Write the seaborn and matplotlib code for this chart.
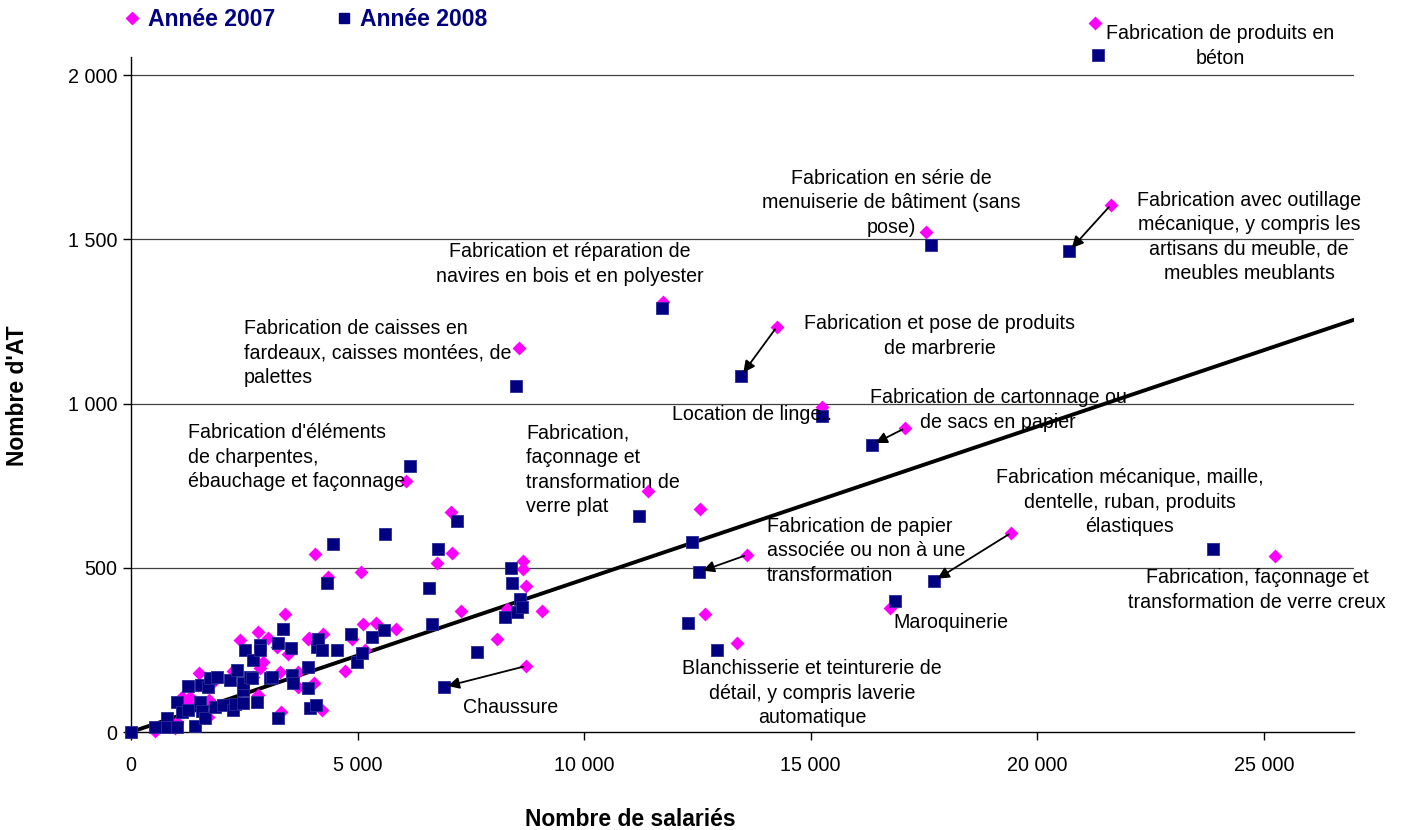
import seaborn as sns
import matplotlib.pyplot as plt
import matplotlib.ticker as mticker
from matplotlib.lines import Line2D
import pandas as pd
import numpy as np

sns.set_style('white')
plt.rcParams['font.family'] = ['Liberation Sans', 'DejaVu Sans']
plt.rcParams['text.color'] = 'black'
plt.rcParams['xtick.color'] = 'black'
plt.rcParams['ytick.color'] = 'black'

# secteurs annotés : valeurs 2007 et 2008
secteurs = [
    'Fabrication de produits en\nbéton',
    'Fabrication avec outillage\nmécanique, y compris les\nartisans du meuble, de\nmeubles meublants',
    'Fabrication en série de\nmenuiserie de bâtiment (sans\npose)',
    'Fabrication et réparation de\nnavires en bois et en polyester',
    'Fabrication de caisses en\nfardeaux, caisses montées, de\npalettes',
    'Fabrication et pose de produits\nde marbrerie',
    'Location de linge..',
    'Fabrication de cartonnage ou\nde sacs en papier',
    "Fabrication d'éléments\nde charpentes,\nébauchage et façonnage",
    'Fabrication,\nfaçonnage et\ntransformation de\nverre plat',
    'Fabrication mécanique, maille,\ndentelle, ruban, produits\nélastiques',
    'Fabrication de papier\nassociée ou non à une\ntransformation',
    'Fabrication, façonnage et\ntransformation de verre creux',
    'Maroquinerie',
    'Blanchisserie et teinturerie de\ndétail, y compris laverie\nautomatique',
    'Chaussure',
]
sal_2007 = [21270, 21620, 17540, 11740, 8560, 14250, 15250, 17080, 6070, 11410, 19420, 13590, 25240, 16750, 13370, 8720]
at_2007 = [2158, 1604, 1522, 1309, 1169, 1233, 989, 925, 765, 734, 606, 539, 536, 376, 272, 201]
sal_2008 = [21340, 20700, 17650, 11720, 8500, 13460, 15250, 16350, 6160, 11210, 17720, 12530, 23880, 16860, 12930, 6900]
at_2008 = [2061, 1464, 1482, 1290, 1053, 1084, 962, 874, 810, 658, 460, 487, 557, 399, 250, 137]
fleche = [False, True, False, False, False, True, False, True, False, False, True, True, False, False, False, True]

# autres secteurs (non annotés)
autres_sal_2007 = [530, 790, 970, 1010, 1120, 1150, 1280, 1300, 1480, 1500, 1700, 1720, 1810, 2250, 2400, 2690,
                   2800, 2800, 2850, 2910, 3020, 3220, 3290, 3310, 3400, 3460, 3690, 3690, 3910, 3930, 4040, 4060,
                   4210, 4240, 4350, 4720, 4880, 5080, 5120, 5160, 5410, 5850, 6750, 7060, 7080, 7280, 8080, 8300,
                   8650, 8650, 8720, 9070, 12560, 12670]
autres_at_2007 = [3, 30, 12, 30, 107, 97, 85, 107, 143, 180, 46, 97, 152, 186, 280, 167,
                  304, 113, 195, 213, 286, 259, 183, 61, 359, 237, 183, 137, 283, 286, 149, 542,
                  67, 298, 472, 186, 283, 487, 329, 250, 332, 314, 514, 670, 545, 369, 283, 374,
                  521, 496, 445, 369, 679, 359]
autres_sal_2008 = [0, 530, 790, 790, 1010, 1010, 1120, 1260, 1260, 1410, 1520, 1540, 1570, 1630, 1700, 1740,
                   1850, 1900, 2030, 2180, 2250, 2290, 2340, 2470, 2470, 2470, 2520, 2630, 2670, 2690, 2790, 2850,
                   2850, 3070, 3110, 3250, 3250, 3360, 3530, 3550, 3570, 3910, 3910, 3950, 4080, 4100, 4130, 4210,
                   4320, 4460, 4550, 4850, 4990, 5100, 5320, 5580, 5600, 6580, 6640, 6770, 7190, 7640, 8250, 8380,
                   8410, 8520, 8580, 8630, 12290, 12380]
autres_at_2008 = [0, 15, 43, 15, 15, 91, 61, 67, 140, 18, 91, 143, 64, 43, 137, 164,
                  76, 167, 82, 158, 67, 85, 189, 88, 128, 149, 250, 167, 164, 219, 90, 265,
                  250, 164, 167, 271, 43, 314, 256, 173, 149, 198, 134, 73, 82, 259, 283, 250,
                  454, 572, 250, 298, 213, 240, 290, 310, 603, 438, 329, 557, 642, 244, 350, 500,
                  454, 365, 405, 380, 332, 578]

pente_tendance = 0.0465  # courbe de tendance linéaire (origine 0)

x_ticks = [0, 5000, 10000, 15000, 20000, 25000]
y_ticks = [0, 500, 1000, 1500, 2000]

df = pd.DataFrame({
    'salaries': sal_2007 + autres_sal_2007 + sal_2008 + autres_sal_2008,
    'at': at_2007 + autres_at_2007 + at_2008 + autres_at_2008,
    'annee': ['Année 2007'] * (len(sal_2007) + len(autres_sal_2007))
             + ['Année 2008'] * (len(sal_2008) + len(autres_sal_2008)),
})

rose = '#FF00FF'
marine = '#000080'

W, H = 1406, 830
fig = plt.figure(figsize=(W / 100, H / 100), dpi=100)
ax = fig.add_axes([131 / W, 1 - 732 / H, (1354 - 131) / W, (732 - 57) / H])

xmax = 26990
ax.set_xlim(0, xmax)
ax.set_ylim(0, 2055)

for y in y_ticks[1:]:
    ax.axhline(y, color='#404040', lw=0.9, zorder=0)

xs = np.array([0, xmax])
ax.plot(xs, pente_tendance * xs, color='black', lw=2.8, zorder=2)

sns.scatterplot(data=df[df.annee == 'Année 2007'], x='salaries', y='at', marker='D', color=rose,
                s=50, edgecolor=rose, linewidth=0, ax=ax, clip_on=False, zorder=3, legend=False)
sns.scatterplot(data=df[df.annee == 'Année 2008'], x='salaries', y='at', marker='s', color=marine,
                s=64, edgecolor='#2a2a9a', linewidth=0.6, ax=ax, clip_on=False, zorder=4, legend=False)
ax.set_xlabel('')
ax.set_ylabel('')

# flèches 2007 -> 2008
for i, f in enumerate(fleche):
    if f:
        ax.annotate('', xy=(sal_2008[i], at_2008[i]), xytext=(sal_2007[i], at_2007[i]),
                    arrowprops=dict(arrowstyle='-|>', color='black', lw=1.3,
                                    mutation_scale=17, shrinkA=2, shrinkB=3), zorder=5)

# position des étiquettes (pixels dans l'image)
pos = [(1220, 46, 'center'), (1249, 237, 'center'), (891, 203, 'center'), (570, 264, 'center'),
       (244, 353, 'left'), (940, 336, 'center'), (752, 414, 'center'), (998, 410, 'center'),
       (188, 457, 'left'), (526, 470, 'left'), (1130, 502, 'center'), (767, 551, 'left'),
       (1257, 590, 'center'), (893, 622, 'left'), (812, 693, 'center'), (463, 707, 'left')]
for txt, (px, py, ha) in zip(secteurs, pos):
    fig.text(px / W, 1 - py / H, txt, ha=ha, va='center', multialignment=ha,
             fontsize=14.1, color='black', linespacing=1.36, zorder=6)

ax.set_xticks(x_ticks)
ax.set_yticks(y_ticks)
fmt = mticker.FuncFormatter(lambda v, p: f'{v:,.0f}'.replace(',', ' '))
ax.xaxis.set_major_formatter(fmt)
ax.yaxis.set_major_formatter(fmt)
ax.tick_params(axis='both', direction='out', length=6, width=1, color='black', labelcolor='black',
               labelsize=14.2, pad=4, left=True, bottom=True)
ax.tick_params(axis='x', pad=11)

for s in ['top', 'right']:
    ax.spines[s].set_visible(False)
for s in ['left', 'bottom']:
    ax.spines[s].set_color('black')
    ax.spines[s].set_linewidth(1)

fig.text(630 / W, 1 - 819 / H, 'Nombre de salariés', ha='center', va='center',
         fontsize=16.5, fontweight='bold')
fig.text(18 / W, 1 - 396 / H, "Nombre d'AT", ha='center', va='center', rotation=90,
         fontsize=16.5, fontweight='bold')

handles = [Line2D([], [], marker='D', color=rose, ls='none', markersize=6),
           Line2D([], [], marker='s', color=marine, ls='none', markersize=7)]
fig.legend(handles, ['Année 2007', 'Année 2008'], loc='center left', bbox_to_anchor=(97 / W, 1 - 20 / H),
           ncol=2, frameon=False, handletextpad=0.1, columnspacing=2.38, handlelength=1.2,
           labelcolor=marine, prop={'weight': 'bold', 'size': 16.6})

fig.savefig('out.png', dpi=100)
